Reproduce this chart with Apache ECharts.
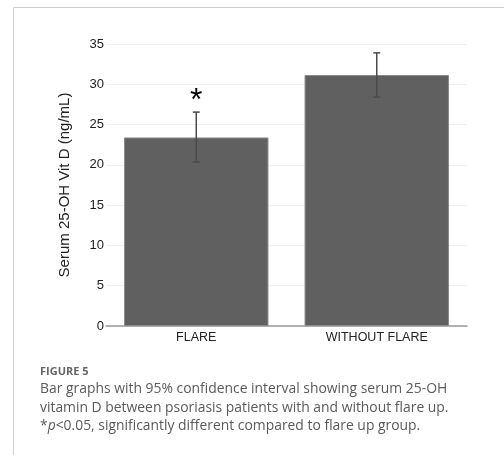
<!DOCTYPE html>
<html>
<head>
<meta charset="utf-8">
<script src="https://cdn.jsdelivr.net/npm/echarts@6/dist/echarts.min.js"></script>
<style>
  html, body { margin: 0; padding: 0; background: #fff; }
  #chart { width: 504px; height: 455px; }
</style>
</head>
<body>
<div id="chart"></div>
<script>
// Serum 25-OH vitamin D by group, mean with 95% CI
const categories = ['FLARE', 'WITHOUT FLARE'];
const meanValues = [23.4, 31.15];
const ciLower = [20.35, 28.4];
const ciUpper = [26.55, 33.9];
const significance = ['*', ''];
const yTicks = [0, 5, 10, 15, 20, 25, 30, 35];

const chart = echarts.init(document.getElementById('chart'), null, { renderer: 'canvas' });

const errorData = categories.map((c, i) => [i, ciLower[i], ciUpper[i]]);

chart.setOption({
  animation: false,
  backgroundColor: '#fff',
  grid: { left: 106, right: 37, top: 44, bottom: 129, containLabel: false },
  xAxis: {
    type: 'category',
    data: categories,
    axisLine: { lineStyle: { color: '#999', width: 1.5 } },
    axisTick: { show: false },
    axisLabel: { color: '#222', fontSize: 12.5, fontFamily: 'Liberation Sans, Arial', margin: 5 }
  },
  yAxis: {
    type: 'value',
    min: yTicks[0],
    max: yTicks[yTicks.length - 1],
    interval: 5,
    name: 'Serum 25-OH Vit D (ng/mL)',
    nameLocation: 'middle',
    nameGap: 34,
    nameTextStyle: { color: '#222', fontSize: 15, fontFamily: 'Liberation Sans, Arial' },
    axisLine: { show: false },
    axisTick: { show: false },
    axisLabel: { color: '#222', fontSize: 13, fontFamily: 'Liberation Sans, Arial', margin: 2 },
    splitLine: { lineStyle: { color: '#f0f0f0', width: 1 } }
  },
  series: [
    {
      type: 'bar',
      data: meanValues,
      barWidth: '80%',
      itemStyle: { color: '#606060', borderColor: '#8a8a8a', borderWidth: 1 },
      z: 2
    },
    {
      type: 'custom',
      data: errorData,
      z: 3,
      renderItem: function (params, api) {
        const x = api.coord([api.value(0), api.value(1)])[0];
        const yLow = api.coord([api.value(0), api.value(1)])[1];
        const yHigh = api.coord([api.value(0), api.value(2)])[1];
        const cap = 3.5;
        const style = { stroke: '#4a4a4a', lineWidth: 1.5 };
        const children = [
          { type: 'line', shape: { x1: x, y1: yHigh, x2: x, y2: yLow }, style: style },
          { type: 'line', shape: { x1: x - cap, y1: yHigh, x2: x + cap, y2: yHigh }, style: style },
          { type: 'line', shape: { x1: x - cap, y1: yLow, x2: x + cap, y2: yLow }, style: style }
        ];
        const mark = significance[params.dataIndex];
        if (mark) {
          children.push({
            type: 'text',
            style: {
              text: mark, x: x, y: yHigh - 27,
              fill: '#000', fontSize: 32, fontFamily: 'Liberation Sans, Arial',
              align: 'center', verticalAlign: 'top'
            }
          });
        }
        return { type: 'group', children: children };
      }
    }
  ],
  graphic: [
    { type: 'line', shape: { x1: 13.5, y1: 7.5, x2: 504, y2: 7.5 }, style: { stroke: '#cfcfcf', lineWidth: 1 } },
    { type: 'line', shape: { x1: 13.5, y1: 7.5, x2: 13.5, y2: 455 }, style: { stroke: '#cfcfcf', lineWidth: 1 } },
    {
      type: 'text', left: 40, top: 366,
      style: { text: 'FIGURE 5', fill: '#666', fontSize: 11, fontWeight: 'bold', fontFamily: 'Open Sans' }
    },
    {
      type: 'text', left: 40, top: 380,
      style: {
        text: 'Bar graphs with 95% confidence interval showing serum 25-OH\nvitamin D between psoriasis patients with and without flare up.\n*{i|p}<0.05, significantly different compared to flare up group.',
        fill: '#5a5a5a', fontSize: 13.9, lineHeight: 18.5, fontFamily: 'Open Sans',
        rich: { i: { fontStyle: 'italic', fill: '#5a5a5a', fontSize: 13.9, fontFamily: 'Open Sans' } }
      }
    }
  ]
});
</script>
</body>
</html>
